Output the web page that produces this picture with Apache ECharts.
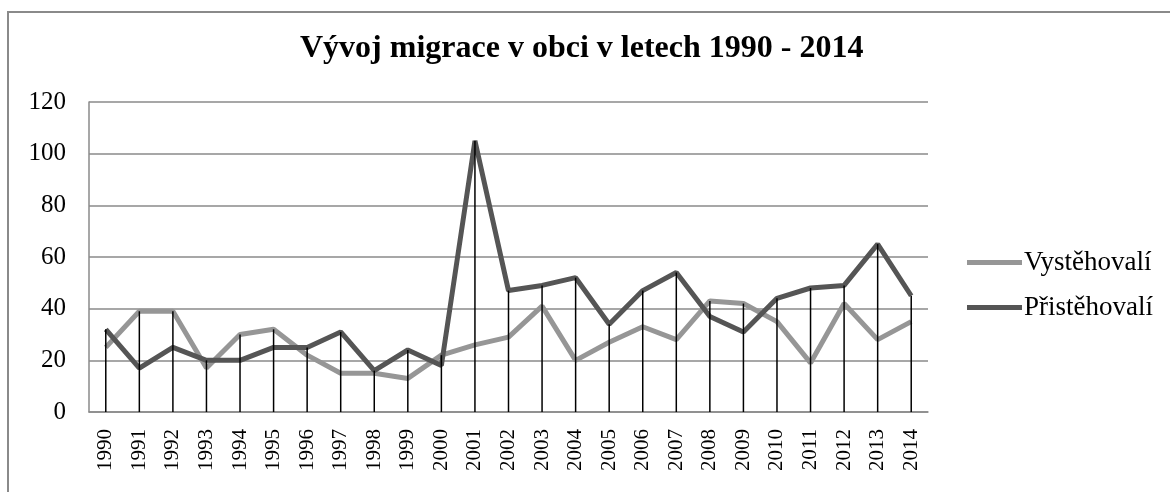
<!DOCTYPE html>
<html>
<head>
<meta charset="utf-8">
<style>
  html, body { margin: 0; padding: 0; background: #ffffff; }
  #chart { width: 1170px; height: 492px; }
</style>
<script src="https://cdn.jsdelivr.net/npm/echarts@6/dist/echarts.min.js"></script>
</head>
<body>
<div id="chart"></div>
<script>
const years = ['1990','1991','1992','1993','1994','1995','1996','1997','1998','1999','2000','2001','2002','2003','2004','2005','2006','2007','2008','2009','2010','2011','2012','2013','2014'];
const vystehovali = [25, 39, 39, 17, 30, 32, 22, 15, 15, 13, 22, 26, 29, 41, 20, 27, 33, 28, 43, 42, 35, 19, 42, 28, 35];
const pristehovali = [32, 17, 25, 20, 20, 25, 25, 31, 16, 24, 18, 105, 47, 49, 52, 34, 47, 54, 37, 31, 44, 48, 49, 65, 45];
const yTicks = [0, 20, 40, 60, 80, 100, 120];

const dropTops = years.map((y, i) => [i, Math.max(vystehovali[i], pristehovali[i])]);

const FONT = '"Liberation Serif", "Times New Roman", serif';
const chart = echarts.init(document.getElementById('chart'));
chart.setOption({
  animation: false,
  backgroundColor: '#ffffff',
  title: {
    text: 'Vývoj migrace v obci v letech 1990 - 2014',
    left: 300,
    top: 33,
    padding: 0,
    textStyle: { fontFamily: FONT, fontSize: 32, fontWeight: 'bold', color: '#000000' }
  },
  graphic: [{
    type: 'rect',
    shape: { x: 8, y: 12, width: 1400, height: 700 },
    style: { fill: 'none', stroke: '#8a8a8a', lineWidth: 2 },
    silent: true,
    z: 0
  }],
  legend: {
    orient: 'vertical',
    left: 967,
    top: 249,
    itemWidth: 55,
    itemHeight: 5,
    itemGap: 18,
    padding: 0,
    icon: 'rect',
    data: ['Vystěhovalí', 'Přistěhovalí'],
    textStyle: { fontFamily: FONT, fontSize: 27, color: '#000000', padding: [0, 0, 0, -3] }
  },
  grid: { left: 89, right: 242, top: 102, bottom: 80, containLabel: false },
  xAxis: {
    type: 'category',
    data: years,
    boundaryGap: true,
    axisLine: { show: true, lineStyle: { color: '#8a8a8a', width: 1.5 } },
    axisTick: { show: false },
    axisLabel: { rotate: 90, fontFamily: FONT, fontSize: 21, color: '#000000', margin: 17, interval: 0 }
  },
  yAxis: {
    type: 'value',
    min: 0, max: 120, interval: 20,
    axisLine: { show: true, lineStyle: { color: '#8a8a8a', width: 1.5 } },
    axisTick: { show: false },
    splitLine: { show: true, lineStyle: { color: '#8a8a8a', width: 1.5 } },
    axisLabel: {
      fontFamily: FONT, fontSize: 25, color: '#000000', margin: 23,
      formatter: v => yTicks.includes(v) ? String(v) : ''
    }
  },
  series: [
    {
      name: 'Vystěhovalí',
      type: 'line',
      data: vystehovali,
      symbol: 'none',
      lineStyle: { color: '#969696', width: 5 },
      itemStyle: { color: '#969696' },
      z: 3
    },
    {
      name: 'Přistěhovalí',
      type: 'line',
      data: pristehovali,
      symbol: 'none',
      lineStyle: { color: '#555555', width: 5 },
      itemStyle: { color: '#555555' },
      z: 4
    },
    {
      name: 'drop',
      type: 'custom',
      data: dropTops,
      z: 5,
      silent: true,
      renderItem: function (params, api) {
        const top = api.coord([api.value(0), api.value(1)]);
        const bottom = api.coord([api.value(0), 0]);
        return {
          type: 'line',
          shape: { x1: top[0], y1: top[1], x2: bottom[0], y2: bottom[1] },
          style: { stroke: '#000000', lineWidth: 1.5 }
        };
      }
    }
  ]
});
</script>
</body>
</html>
